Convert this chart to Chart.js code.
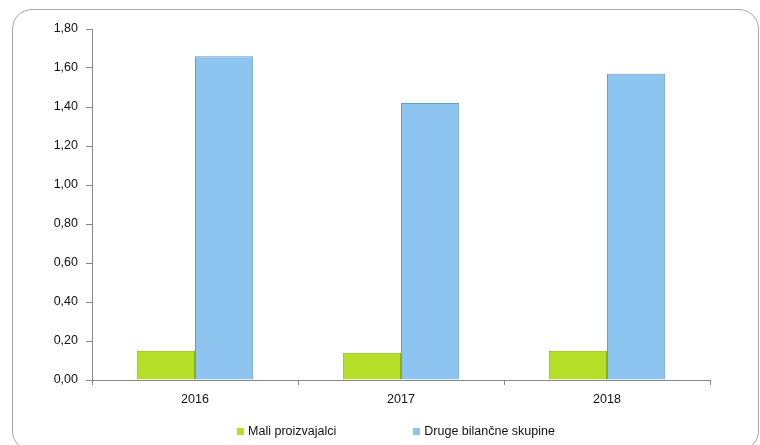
<!DOCTYPE html>
<html>
<head>
<meta charset="utf-8">
<script src="https://cdn.jsdelivr.net/npm/chart.js@4/dist/chart.umd.min.js"></script>
<style>
  html, body { margin: 0; padding: 0; background: #fff; overflow: hidden; }
  #wrap { position: relative; width: 760px; height: 445px; }
  #frame {
    position: absolute; left: 12px; top: 9px; width: 745px; height: 440px;
    border: 1.5px solid #a6a6a6; border-radius: 20px; pointer-events: none;
  }
  #legend {
    position: absolute; top: 424px; left: 0; width: 792px;
    display: flex; justify-content: center; align-items: center;
    font-family: "Liberation Sans", Arial, sans-serif; font-size: 12.5px; color: #111;
  }
  .item { display: flex; align-items: center; }
  .item + .item { margin-left: 77px; }
  .box { width: 7px; height: 7px; margin-right: 4px; }
</style>
</head>
<body>
<div id="wrap">
  <canvas id="simpleChart" width="760" height="445"></canvas>
  <div id="frame"></div>
  <div id="legend"></div>
</div>
<script>
const years = ['2016', '2017', '2018'];
const maliProizvajalci = [0.15, 0.14, 0.15];
const drugeSkupine = [1.66, 1.42, 1.57];
const seriesNames = ['Mali proizvajalci', 'Druge bilančne skupine'];
const seriesColors = ['#b6df2a', '#8ec4f0'];
const borderColors = ['#8fae14', '#6a9cc6'];

const simpleChart = document.querySelector('#simpleChart');

const myChart = new Chart(simpleChart, {
    type: 'bar',
    data: {
        labels: years,
        datasets: [
            {
                label: seriesNames[0],
                data: maliProizvajalci,
                backgroundColor: seriesColors[0],
                borderColor: borderColors[0],
                borderWidth: 1
            },
            {
                label: seriesNames[1],
                data: drugeSkupine,
                backgroundColor: seriesColors[1],
                borderColor: borderColors[1],
                borderWidth: 1
            }
        ]
    },
    options: {
        responsive: false,
        animation: false,
        layout: {
            padding: { left: 42, right: 50, top: 29, bottom: 35 }
        },
        datasets: {
            bar: { categoryPercentage: 0.565, barPercentage: 1 }
        },
        scales: {
            x: {
                grid: { drawOnChartArea: false, tickLength: 5, color: '#888' },
                border: { color: '#888' },
                ticks: {
                    padding: 7,
                    color: '#111',
                    font: { family: 'Liberation Sans', size: 12.5 }
                },
                afterFit(scale) { scale.height = 30; }
            },
            y: {
                min: 0,
                max: 1.8,
                grid: { drawOnChartArea: false, tickLength: 6, color: '#888' },
                border: { color: '#888' },
                ticks: {
                    stepSize: 0.2,
                    padding: 8,
                    color: '#111',
                    font: { family: 'Liberation Sans', size: 12.5 },
                    callback: (v) => v.toFixed(2).replace('.', ',')
                },
                afterFit(scale) { scale.width = 50; }
            }
        },
        plugins: {
            legend: { display: false },
            tooltip: { enabled: false }
        }
    }
});

// legend built from the datasets
const legend = document.querySelector('#legend');
myChart.data.datasets.forEach((ds) => {
    const item = document.createElement('div');
    item.className = 'item';
    const box = document.createElement('span');
    box.className = 'box';
    box.style.background = ds.backgroundColor;
    const txt = document.createElement('span');
    txt.textContent = ds.label;
    item.appendChild(box);
    item.appendChild(txt);
    legend.appendChild(item);
});
</script>
</body>
</html>
